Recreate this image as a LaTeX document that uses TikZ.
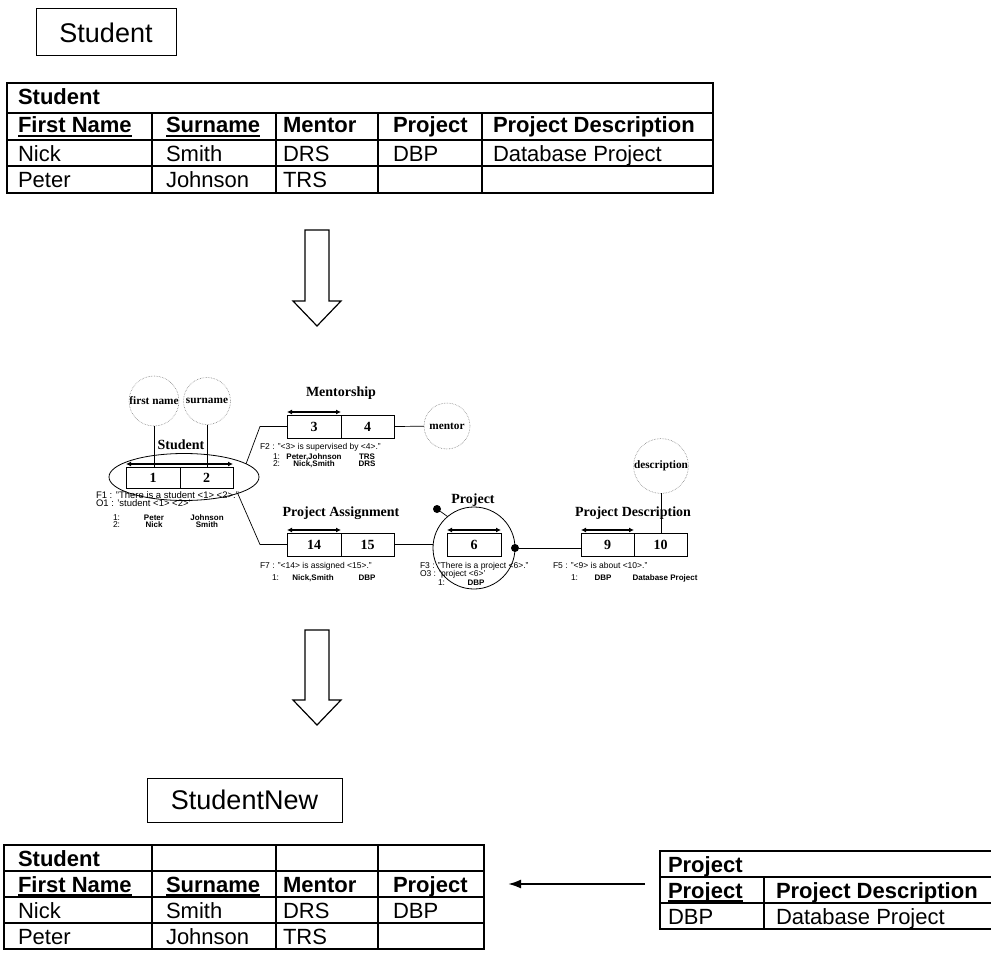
\documentclass[tikz,border=0pt]{standalone}
\usepackage{fontspec}
\setmainfont{Liberation Sans}
\newfontfamily\tmsfont{Liberation Serif}
\usetikzlibrary{arrows.meta,shapes.geometric,calc}

% thick underline for key columns
\newcommand\keyul[1]{\setbox0\hbox{#1}\rlap{\rule[-4pt]{\wd0}{2.2pt}}\box0}

\tikzset{
  every node/.style={inner sep=0pt, outer sep=0pt},
  tcell/.style={anchor=base west, font=\fontsize{22}{26}\selectfont},
  thead/.style={anchor=base west, font=\fontsize{22}{26}\selectfont\bfseries},
  namebox/.style={draw, line width=1pt, font=\fontsize{27}{32}\selectfont},
  tframe/.style={line width=2.5pt},
  tgrid/.style={line width=1.2pt},
  rolebox/.style={draw, line width=1pt, minimum height=23, font=\tmsfont\bfseries\fontsize{14}{16}\selectfont},
  attr/.style={circle, draw=gray, densely dotted, line width=0.6pt, font=\tmsfont\bfseries\fontsize{11.3}{13}\selectfont},
  ftitle/.style={font=\tmsfont\bfseries\fontsize{14}{16}\selectfont},
  role/.style={line width=1.3pt, {Latex[length=5pt,width=5pt]}-{Latex[length=5pt,width=5pt]}},
  fact/.style={anchor=base west, font=\fontsize{8.5}{10}\selectfont},
  widefact/.style={anchor=base west, font=\fontsize{9.5}{11}\selectfont},
  val/.style={anchor=base, font=\bfseries\fontsize{8}{10}\selectfont},
  link/.style={line width=0.7pt},
  dot/.style={circle, fill=black, minimum size=8},
  hollow/.style={line width=1.2pt, line join=miter},
}

\begin{document}
\begin{tikzpicture}[x=1pt,y=-1pt]
\useasboundingbox (0,0) rectangle (991,955);

% ---------- source relation ----------
\node[namebox, minimum width=140, minimum height=47] (nbStudent) at (106,32.5) {Student};

\draw[tgrid] (7,113) -- (713,113) (7,140) -- (713,140) (7,166) -- (713,166);
\foreach \cx in {152,276,378,482} \draw[tgrid] (\cx,113) -- (\cx,193);
\draw[tframe] (7,83) rectangle (713,193);
\node[thead] (h1) at (18,105) {Student};
\node[thead] (h1a) at (18,133) {\keyul{First Name}};
\node[thead] (h1b) at (166,133) {\keyul{Surname}};
\node[thead] (h1c) at (283,133) {Mentor};
\node[thead] (h1d) at (393,133) {Project};
\node[thead] (h1e) at (493,133) {Project Description};
\node[tcell] (r1a) at (18,161) {Nick};
\node[tcell] (r1b) at (166,161) {Smith};
\node[tcell] (r1c) at (283,161) {DRS};
\node[tcell] (r1d) at (393,161) {DBP};
\node[tcell] (r1e) at (493,161) {Database Project};
\node[tcell] (r2a) at (18,188) {Peter};
\node[tcell] (r2b) at (166,188) {Johnson};
\node[tcell] (r2c) at (283,188) {TRS};

% ---------- transformation arrow ----------
\draw[hollow] (305,230) -- (329,230) -- (329,301) -- (341,301) -- (317,326) -- (293,301) -- (305,301) -- cycle;

% ---------- fact-oriented schema ----------
% Student
\node[ellipse, draw, line width=0.8pt, minimum width=150, minimum height=47] (stE) at (184,477) {};
\node[ftitle] (tStudent) at (181,445) {Student};
\node[rolebox, minimum width=54, minimum height=21] (b1) at (153,477.5) {1};
\node[rolebox, minimum width=53, minimum height=21] (b2) at (206.5,477.5) {2};
\node[attr, minimum size=50] (aFirst) at (154,401) {first name};
\node[attr, minimum size=47] (aSur) at (207,401) {surname};
\draw[link] (aFirst) -- (aFirst |- b1.north);
\draw[link] (aSur) -- (aSur |- b2.north);
\draw[role] ([yshift=3pt]b1.north west) -- ([yshift=3pt]b2.north east);
\node[widefact] (f1) at (96,498) {F1 : "There is a student <1> <2>."};
\node[widefact] (o1) at (96,506) {O1 : 'student <1> <2>'};
\node[fact] (f1r1) at (113,520) {1:};
\node[val] (f1v1a) at (154,520) {Peter};
\node[val] (f1v1b) at (207,520) {Johnson};
\node[fact] (f1r2) at (113,527) {2:};
\node[val] (f1v2a) at (154,527) {Nick};
\node[val] (f1v2b) at (207,527) {Smith};

% Mentorship
\node[ftitle] (tMent) at (341,393) {Mentorship};
\node[rolebox, minimum width=54] (b3) at (314,426.5) {3};
\node[rolebox, minimum width=53] (b4) at (367.5,426.5) {4};
\node[attr, minimum size=46] (aMentor) at (447,426) {mentor};
\draw[link] (b4.east) -- (aMentor);
\draw[role] ([yshift=3pt]b3.north west) -- ([yshift=3pt]b3.north east);
\draw[link] (stE.12) -- ($(b3.west)+(-27,0)$) -- (b3.west);
\node[fact] (f2) at (260,449) {F2 : "<3> is supervised by <4>."};
\node[fact] (f2r1) at (273,459) {1:};
\node[val] (f2v1a) at (314,459) {Peter,Johnson};
\node[val] (f2v1b) at (367,459) {TRS};
\node[fact] (f2r2) at (273,466) {2:};
\node[val] (f2v2a) at (314,466) {Nick,Smith};
\node[val] (f2v2b) at (367,466) {DRS};

% Project Assignment
\node[ftitle] (tPA) at (341,513) {Project Assignment};
\node[rolebox, minimum width=54] (b14) at (314,544.5) {14};
\node[rolebox, minimum width=53] (b15) at (367.5,544.5) {15};
\draw[role] ([yshift=3pt]b14.north west) -- ([yshift=3pt]b14.north east);
\draw[link] (stE.-17) -- ($(b14.west)+(-27,0)$) -- (b14.west);
\node[fact] (f7) at (260,568) {F7 : "<14> is assigned <15>."};
\node[fact] (f7r1) at (272,580) {1:};
\node[val] (f7v1a) at (313,580) {Nick,Smith};
\node[val] (f7v1b) at (367,580) {DBP};

% Project
\node[ftitle] (tProj) at (473,500) {Project};
\node[circle, draw, line width=0.8pt, minimum size=82] (pc) at (474,548) {};
\node[rolebox, minimum width=54] (b6) at (474,544.5) {6};
\draw[role] ([yshift=3pt]b6.north west) -- ([yshift=3pt]b6.north east);
\draw[link] (b15.east) -- (b15.east -| pc.west);
\node[dot] (dTop) at (437,509) {};
\node[dot] (dRight) at (pc.east) {};
\draw[link] (dTop) -- (pc.130);
\node[fact] (f3) at (420,568) {F3 : "There is a project <6>."};
\node[fact] (o3) at (420,576) {O3 : 'project <6>'};
\node[fact] (f3r1) at (438,585) {1:};
\node[val] (f3v1) at (476,585) {DBP};

% Project Description
\node[ftitle] (tPD) at (633,513) {Project Description};
\node[rolebox, minimum width=53] (b9) at (607.5,544.5) {9};
\node[rolebox, minimum width=53] (b10) at (660.5,544.5) {10};
\draw[role] ([yshift=3pt]b9.north west) -- ([yshift=3pt]b9.north east);
\node[attr, minimum size=54] (aDesc) at (661,466) {description};
\draw[link] (aDesc) -- (aDesc |- b10.north);
\draw[link] (dRight) -- (dRight -| b9.west);
\node[fact] (f5) at (553,568) {F5 : "<9> is about <10>."};
\node[fact] (f5r1) at (571,580) {1:};
\node[val] (f5v1a) at (603,580) {DBP};
\node[val] (f5v1b) at (665,580) {Database Project};

% ---------- transformation arrow ----------
\draw[hollow] (305,630) -- (329,630) -- (329,700) -- (341,700) -- (317,725) -- (293,700) -- (305,700) -- cycle;

% ---------- resulting relations ----------
\node[namebox, minimum width=195, minimum height=44] (nbNew) at (244.5,800) {StudentNew};

\draw[tgrid] (4,871) -- (484,871) (4,897) -- (484,897) (4,923) -- (484,923);
\foreach \cx in {152,276,378} \draw[tgrid] (\cx,845) -- (\cx,949);
\draw[tframe] (4,845) rectangle (484,949);
\node[thead] (h2) at (18,866) {Student};
\node[thead] (h2a) at (18,892) {\keyul{First Name}};
\node[thead] (h2b) at (166,892) {\keyul{Surname}};
\node[thead] (h2c) at (283,892) {Mentor};
\node[thead] (h2d) at (393,892) {Project};
\node[tcell] (s1a) at (18,918) {Nick};
\node[tcell] (s1b) at (166,918) {Smith};
\node[tcell] (s1c) at (283,918) {DRS};
\node[tcell] (s1d) at (393,918) {DBP};
\node[tcell] (s2a) at (18,944) {Peter};
\node[tcell] (s2b) at (166,944) {Johnson};
\node[tcell] (s2c) at (283,944) {TRS};

\draw[tgrid] (660,877) -- (1000,877) (660,903) -- (1000,903);
\draw[tgrid] (764,877) -- (764,929);
\draw[tframe] (660,851) rectangle (1000,929);
\node[thead] (h3) at (668,872) {Project};
\node[thead] (h3a) at (668,898) {\keyul{Project}};
\node[thead] (h3b) at (776,898) {Project Description};
\node[tcell] (p1a) at (668,924) {DBP};
\node[tcell] (p1b) at (776,924) {Database Project};

\coordinate (refFrom) at (645,884);
\coordinate (refTo) at (508,884);
\draw[line width=2pt, -{Latex[length=13pt,width=9pt]}] (refFrom) -- (refTo);
\end{tikzpicture}
\end{document}
